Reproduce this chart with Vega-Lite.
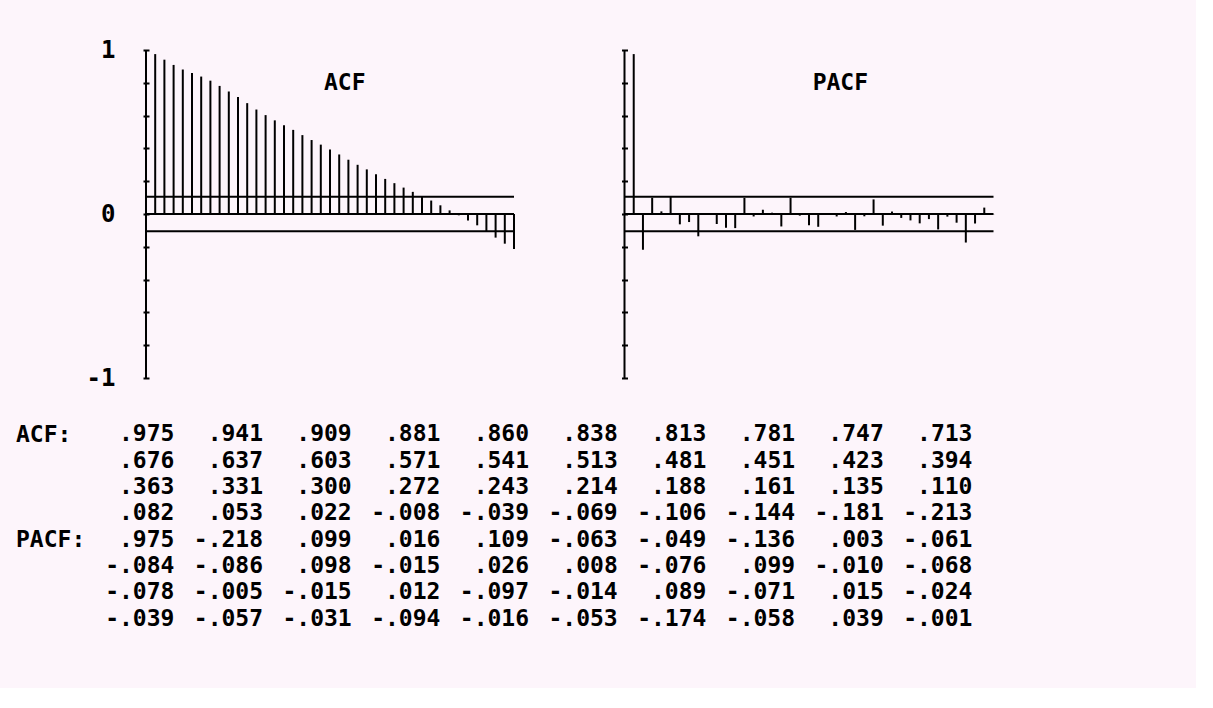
{
  "$schema": "https://vega.github.io/schema/vega-lite/v6.json",
  "background": "#fdf5fb",
  "padding": {"left": 15, "top": 38, "right": 195, "bottom": 56},
  "config": {"view": {"stroke": null}, "font": "DejaVu Sans Mono"},
  "data": {"values": [
    {"lag": 1, "acf": 0.975, "pacf": 0.975},
    {"lag": 2, "acf": 0.941, "pacf": -0.218},
    {"lag": 3, "acf": 0.909, "pacf": 0.099},
    {"lag": 4, "acf": 0.881, "pacf": 0.016},
    {"lag": 5, "acf": 0.860, "pacf": 0.109},
    {"lag": 6, "acf": 0.838, "pacf": -0.063},
    {"lag": 7, "acf": 0.813, "pacf": -0.049},
    {"lag": 8, "acf": 0.781, "pacf": -0.136},
    {"lag": 9, "acf": 0.747, "pacf": 0.003},
    {"lag": 10, "acf": 0.713, "pacf": -0.061},
    {"lag": 11, "acf": 0.676, "pacf": -0.084},
    {"lag": 12, "acf": 0.637, "pacf": -0.086},
    {"lag": 13, "acf": 0.603, "pacf": 0.098},
    {"lag": 14, "acf": 0.571, "pacf": -0.015},
    {"lag": 15, "acf": 0.541, "pacf": 0.026},
    {"lag": 16, "acf": 0.513, "pacf": 0.008},
    {"lag": 17, "acf": 0.481, "pacf": -0.076},
    {"lag": 18, "acf": 0.451, "pacf": 0.099},
    {"lag": 19, "acf": 0.423, "pacf": -0.010},
    {"lag": 20, "acf": 0.394, "pacf": -0.068},
    {"lag": 21, "acf": 0.363, "pacf": -0.078},
    {"lag": 22, "acf": 0.331, "pacf": -0.005},
    {"lag": 23, "acf": 0.300, "pacf": -0.015},
    {"lag": 24, "acf": 0.272, "pacf": 0.012},
    {"lag": 25, "acf": 0.243, "pacf": -0.097},
    {"lag": 26, "acf": 0.214, "pacf": -0.014},
    {"lag": 27, "acf": 0.188, "pacf": 0.089},
    {"lag": 28, "acf": 0.161, "pacf": -0.071},
    {"lag": 29, "acf": 0.135, "pacf": 0.015},
    {"lag": 30, "acf": 0.110, "pacf": -0.024},
    {"lag": 31, "acf": 0.082, "pacf": -0.039},
    {"lag": 32, "acf": 0.053, "pacf": -0.057},
    {"lag": 33, "acf": 0.022, "pacf": -0.031},
    {"lag": 34, "acf": -0.008, "pacf": -0.094},
    {"lag": 35, "acf": -0.039, "pacf": -0.016},
    {"lag": 36, "acf": -0.069, "pacf": -0.053},
    {"lag": 37, "acf": -0.106, "pacf": -0.174},
    {"lag": 38, "acf": -0.144, "pacf": -0.058},
    {"lag": 39, "acf": -0.181, "pacf": 0.039},
    {"lag": 40, "acf": -0.213, "pacf": -0.001}
  ]},
  "spacing": 31,
  "vconcat": [
    {
      "spacing": 105.5,
      "hconcat": [
        {
          "width": 368,
          "height": 328,
          "layer": [
            {
              "data": {"values": [{"lo": -1, "hi": 1, "lag0": 0}]},
              "mark": {"type": "rule", "strokeWidth": 2, "color": "#000"},
              "encoding": {
                "x": {"field": "lag0", "type": "quantitative", "scale": {"domain": [0, 40], "nice": false, "zero": false}, "axis": null},
                "y": {"field": "lo", "type": "quantitative", "scale": {"domain": [-1, 1], "nice": false}, "title": null,
                  "axis": {"values": [-1, -0.8, -0.6, -0.4, -0.2, 0, 0.2, 0.4, 0.6, 0.8, 1], "offset": -3, "domain": false, "ticks": true, "tickSize": 6, "tickWidth": 2, "tickColor": "#000", "grid": false, "title": null, "labelExpr": "datum.value > 0.99 ? '1' : datum.value < -0.99 ? '-1' : abs(datum.value) < 0.01 ? '0' : ''", "labelFont": "DejaVu Sans Mono", "labelFontWeight": "bold", "labelFontSize": 24, "labelColor": "#000", "labelPadding": 28, "labelFlush": false, "labelBaseline": "middle", "labelBound": false, "labelOverlap": false}},
                "y2": {"field": "hi"}
              }
            },
            {
              "data": {"values": [{"level": 0, "from": 0, "to": 40}, {"level": 0.105, "from": 0, "to": 40}, {"level": -0.105, "from": 0, "to": 40}]},
              "mark": {"type": "rule", "strokeWidth": 2, "color": "#000"},
              "encoding": {
                "x": {"field": "from", "type": "quantitative", "axis": null},
                "x2": {"field": "to"},
                "y": {"field": "level", "type": "quantitative", "title": null,
                  "axis": {"values": [-1, -0.8, -0.6, -0.4, -0.2, 0, 0.2, 0.4, 0.6, 0.8, 1], "offset": -3, "domain": false, "ticks": true, "tickSize": 6, "tickWidth": 2, "tickColor": "#000", "grid": false, "title": null, "labelExpr": "datum.value > 0.99 ? '1' : datum.value < -0.99 ? '-1' : abs(datum.value) < 0.01 ? '0' : ''", "labelFont": "DejaVu Sans Mono", "labelFontWeight": "bold", "labelFontSize": 24, "labelColor": "#000", "labelPadding": 28, "labelFlush": false, "labelBaseline": "middle", "labelBound": false, "labelOverlap": false}}
              }
            },
            {
              "mark": {"type": "rule", "strokeWidth": 2, "color": "#000"},
              "encoding": {
                "x": {"field": "lag", "type": "quantitative", "axis": null},
                "y": {"field": "acf", "type": "quantitative", "title": null,
                  "axis": {"values": [-1, -0.8, -0.6, -0.4, -0.2, 0, 0.2, 0.4, 0.6, 0.8, 1], "offset": -3, "domain": false, "ticks": true, "tickSize": 6, "tickWidth": 2, "tickColor": "#000", "grid": false, "title": null, "labelExpr": "datum.value > 0.99 ? '1' : datum.value < -0.99 ? '-1' : abs(datum.value) < 0.01 ? '0' : ''", "labelFont": "DejaVu Sans Mono", "labelFontWeight": "bold", "labelFontSize": 24, "labelColor": "#000", "labelPadding": 28, "labelFlush": false, "labelBaseline": "middle", "labelBound": false, "labelOverlap": false}},
                "y2": {"datum": 0}
              }
            },
            {
              "data": {"values": [{"name": "ACF", "tx": 21.6, "ty": 0.8}]},
              "mark": {"type": "text", "font": "DejaVu Sans Mono", "fontWeight": "bold", "fontSize": 23, "color": "#000", "align": "center", "baseline": "middle"},
              "encoding": {
                "x": {"field": "tx", "type": "quantitative", "axis": null},
                "y": {"field": "ty", "type": "quantitative", "title": null,
                  "axis": {"values": [-1, -0.8, -0.6, -0.4, -0.2, 0, 0.2, 0.4, 0.6, 0.8, 1], "offset": -3, "domain": false, "ticks": true, "tickSize": 6, "tickWidth": 2, "tickColor": "#000", "grid": false, "title": null, "labelExpr": "datum.value > 0.99 ? '1' : datum.value < -0.99 ? '-1' : abs(datum.value) < 0.01 ? '0' : ''", "labelFont": "DejaVu Sans Mono", "labelFontWeight": "bold", "labelFontSize": 24, "labelColor": "#000", "labelPadding": 28, "labelFlush": false, "labelBaseline": "middle", "labelBound": false, "labelOverlap": false}},
                "text": {"field": "name"}
              }
            }
          ]
        },
        {
          "width": 369,
          "height": 328,
          "layer": [
            {
              "data": {"values": [{"lo": -1, "hi": 1, "lag0": 0}]},
              "mark": {"type": "rule", "strokeWidth": 2, "color": "#000"},
              "encoding": {
                "x": {"field": "lag0", "type": "quantitative", "scale": {"domain": [0, 40], "nice": false, "zero": false}, "axis": null},
                "y": {"field": "lo", "type": "quantitative", "scale": {"domain": [-1, 1], "nice": false}, "title": null,
                  "axis": {"values": [-1, -0.8, -0.6, -0.4, -0.2, 0, 0.2, 0.4, 0.6, 0.8, 1], "offset": -3, "domain": false, "ticks": true, "tickSize": 6, "tickWidth": 2, "tickColor": "#000", "grid": false, "title": null, "labels": false}},
                "y2": {"field": "hi"}
              }
            },
            {
              "data": {"values": [{"level": 0, "from": 0, "to": 40}, {"level": 0.105, "from": 0, "to": 40}, {"level": -0.105, "from": 0, "to": 40}]},
              "mark": {"type": "rule", "strokeWidth": 2, "color": "#000"},
              "encoding": {
                "x": {"field": "from", "type": "quantitative", "axis": null},
                "x2": {"field": "to"},
                "y": {"field": "level", "type": "quantitative", "title": null,
                  "axis": {"values": [-1, -0.8, -0.6, -0.4, -0.2, 0, 0.2, 0.4, 0.6, 0.8, 1], "offset": -3, "domain": false, "ticks": true, "tickSize": 6, "tickWidth": 2, "tickColor": "#000", "grid": false, "title": null, "labels": false}}
              }
            },
            {
              "mark": {"type": "rule", "strokeWidth": 2, "color": "#000"},
              "encoding": {
                "x": {"field": "lag", "type": "quantitative", "axis": null},
                "y": {"field": "pacf", "type": "quantitative", "title": null,
                  "axis": {"values": [-1, -0.8, -0.6, -0.4, -0.2, 0, 0.2, 0.4, 0.6, 0.8, 1], "offset": -3, "domain": false, "ticks": true, "tickSize": 6, "tickWidth": 2, "tickColor": "#000", "grid": false, "title": null, "labels": false}},
                "y2": {"datum": 0}
              }
            },
            {
              "data": {"values": [{"name": "PACF", "tx": 23.4, "ty": 0.8}]},
              "mark": {"type": "text", "font": "DejaVu Sans Mono", "fontWeight": "bold", "fontSize": 23, "color": "#000", "align": "center", "baseline": "middle"},
              "encoding": {
                "x": {"field": "tx", "type": "quantitative", "axis": null},
                "y": {"field": "ty", "type": "quantitative", "title": null,
                  "axis": {"values": [-1, -0.8, -0.6, -0.4, -0.2, 0, 0.2, 0.4, 0.6, 0.8, 1], "offset": -3, "domain": false, "ticks": true, "tickSize": 6, "tickWidth": 2, "tickColor": "#000", "grid": false, "title": null, "labels": false}},
                "text": {"field": "name"}
              }
            }
          ]
        }
      ]
    },
    {
      "width": 854.8,
      "height": 211,
      "transform": [
        {"fold": ["acf", "pacf"], "as": ["series", "value"]},
        {"calculate": "(datum.series == 'pacf' ? 4 : 0) + floor((datum.lag - 1) / 10)", "as": "row"},
        {"calculate": "(datum.lag - 1) % 10", "as": "col"},
        {"calculate": "(datum.value < 0 ? '-' : '') + replace(format(abs(datum.value), '.3f'), '0.', '.')", "as": "label"}
      ],
      "mark": {"type": "text", "align": "right", "baseline": "middle", "font": "DejaVu Sans Mono", "fontWeight": "bold", "fontSize": 23, "color": "#000"},
      "encoding": {
        "x": {"field": "col", "type": "quantitative", "scale": {"domain": [-0.32, 9.32], "nice": false, "zero": false}, "axis": null},
        "y": {
          "field": "row", "type": "quantitative",
          "scale": {"domain": [-0.5, 7.5], "nice": false, "zero": false, "reverse": true},
          "axis": {
            "values": [0, 4],
            "labelExpr": "datum.value < 2 ? 'ACF:' : 'PACF:'",
            "ticks": false, "tickSize": 0, "domain": false, "grid": false, "title": null,
            "labelAlign": "left", "labelPadding": 130.5,
            "labelFont": "DejaVu Sans Mono", "labelFontWeight": "bold", "labelFontSize": 23, "labelColor": "#000",
            "labelBaseline": "middle", "labelBound": false, "labelFlush": false, "labelOverlap": false
          }
        },
        "text": {"field": "label"}
      }
    }
  ]
}
